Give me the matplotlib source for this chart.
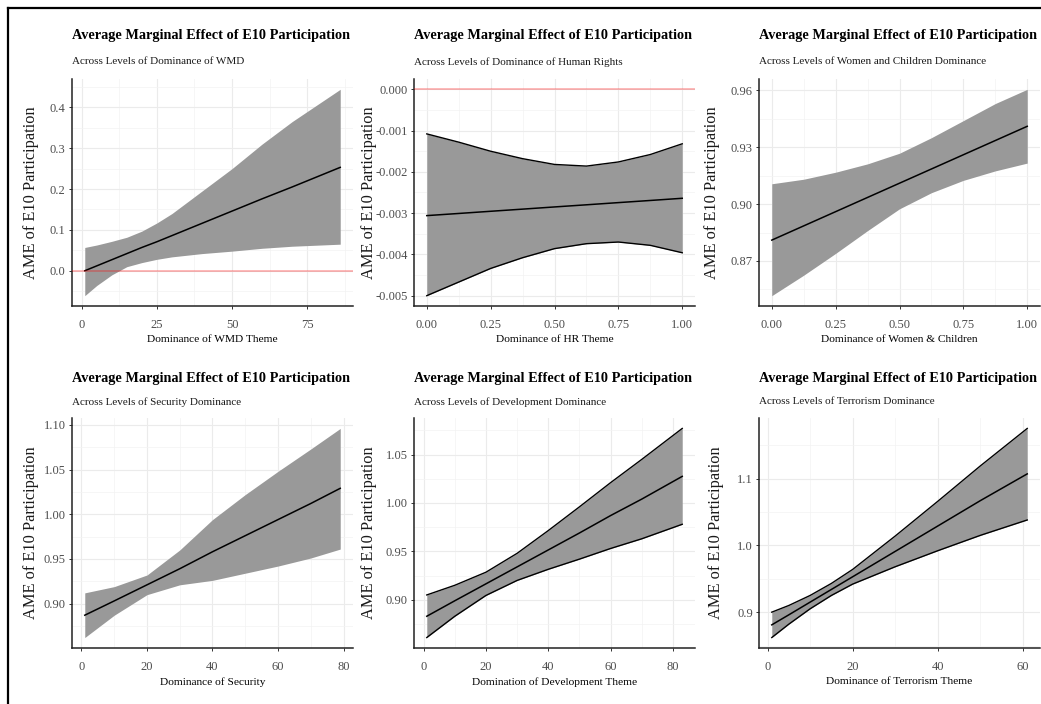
import matplotlib
matplotlib.use("Agg")
import matplotlib.pyplot as plt
from matplotlib.lines import Line2D
from matplotlib.ticker import FixedLocator, FormatStrFormatter, AutoMinorLocator

plt.rcParams['font.family'] = ['Liberation Serif', 'DejaVu Serif']
plt.rcParams['axes.unicode_minus'] = False

# values
wmd_x = [1, 5, 10, 15, 20, 25, 30, 40, 50, 60, 70, 86]
wmd_fit = [0.0, 0.012, 0.027, 0.042, 0.057, 0.071, 0.086, 0.116, 0.146, 0.176, 0.205, 0.253]
wmd_hi = [0.057, 0.063, 0.072, 0.082, 0.097, 0.117, 0.140, 0.195, 0.250, 0.310, 0.365, 0.444]
wmd_lo = [-0.061, -0.036, -0.010, 0.010, 0.020, 0.028, 0.034, 0.042, 0.048, 0.055, 0.060, 0.065]

hr_x = [0, 0.125, 0.25, 0.375, 0.5, 0.625, 0.75, 0.875, 1.0]
hr_fit = [-0.00306, -0.003008, -0.002955, -0.002903, -0.00285, -0.002798, -0.002745, -0.002693, -0.00264]
hr_hi = [-0.00108, -0.00128, -0.00150, -0.00168, -0.00182, -0.00186, -0.00176, -0.00158, -0.00132]
hr_lo = [-0.00500, -0.00467, -0.00434, -0.00408, -0.00386, -0.00374, -0.00370, -0.00378, -0.00396]

wc_x = [0, 0.125, 0.25, 0.375, 0.5, 0.625, 0.75, 0.875, 1.0]
wc_fit = [0.881, 0.8885, 0.896, 0.9035, 0.911, 0.9185, 0.926, 0.9335, 0.941]
wc_hi = [0.9107, 0.9131, 0.9168, 0.9212, 0.9268, 0.9350, 0.9440, 0.9530, 0.9605]
wc_lo = [0.8517, 0.8625, 0.8740, 0.8860, 0.8975, 0.9060, 0.9125, 0.9175, 0.9216]

sec_x = [1, 10, 20, 30, 40, 50, 60, 70, 79]
sec_fit = [0.887, 0.903, 0.921, 0.939, 0.958, 0.976, 0.994, 1.012, 1.029]
sec_hi = [0.912, 0.919, 0.932, 0.960, 0.994, 1.022, 1.048, 1.073, 1.096]
sec_lo = [0.862, 0.887, 0.910, 0.921, 0.926, 0.934, 0.942, 0.951, 0.961]

dev_x = [1, 10, 20, 30, 40, 50, 60, 70, 83]
dev_fit = [0.883, 0.899, 0.9165, 0.934, 0.9515, 0.969, 0.987, 1.004, 1.0275]
dev_hi = [0.905, 0.915, 0.9285, 0.948, 0.9715, 0.996, 1.021, 1.045, 1.077]
dev_lo = [0.861, 0.883, 0.9045, 0.920, 0.9315, 0.942, 0.953, 0.963, 0.978]

ter_x = [1, 5, 10, 15, 20, 30, 40, 50, 61]
ter_fit = [0.881, 0.896, 0.915, 0.934, 0.953, 0.991, 1.029, 1.067, 1.107]
ter_hi = [0.900, 0.910, 0.925, 0.943, 0.964, 1.014, 1.066, 1.119, 1.175]
ter_lo = [0.862, 0.882, 0.905, 0.925, 0.942, 0.968, 0.992, 1.015, 1.038]

title = "Average Marginal Effect of E10 Participation"
subtitles = ["Across Levels of Dominance of WMD",
             "Across Levels of Dominance of Human Rights",
             "Across Levels of Women and Children Dominance",
             "Across Levels of Security Dominance",
             "Across Levels of Development Dominance",
             "Across Levels of Terrorism Dominance"]
xlabels = ["Dominance of WMD Theme", "Dominance of HR Theme",
           "Dominance of Women & Children", "Dominance of Security",
           "Domination of Development Theme", "Dominance of Terrorism Theme"]
ylabel = "AME of E10 Participation"

xticks = [[0, 25, 50, 75], [0, 0.25, 0.5, 0.75, 1.0], [0, 0.25, 0.5, 0.75, 1.0],
          [0, 20, 40, 60, 80], [0, 20, 40, 60, 80], [0, 20, 40, 60]]
yticks = [[0.0, 0.1, 0.2, 0.3, 0.4], [0.0, -0.001, -0.002, -0.003, -0.004, -0.005],
          [0.87, 0.90, 0.93, 0.96], [0.90, 0.95, 1.00, 1.05, 1.10],
          [0.85, 0.90, 0.95, 1.00, 1.05], [0.9, 1.0, 1.1]]
xfmt = ['%d', '%.2f', '%.2f', '%d', '%d', '%d']
yfmt = ['%.1f', '%.3f', '%.2f', '%.2f', '%.2f', '%.1f']

panels = [(wmd_x, wmd_fit, wmd_lo, wmd_hi), (hr_x, hr_fit, hr_lo, hr_hi),
          (wc_x, wc_fit, wc_lo, wc_hi), (sec_x, sec_fit, sec_lo, sec_hi),
          (dev_x, dev_fit, dev_lo, dev_hi), (ter_x, ter_fit, ter_lo, ter_hi)]
outlined = [False, True, False, False, True, True]
zero_line = [True, True, False, False, False, False]

W, H = 1041, 704
fig = plt.figure(figsize=(W / 100, H / 100), dpi=100)

col_left = [72, 414, 759]
col_w = 281
row_top = [79, 418]
row_bot = [306, 648]
title_y = [35, 378]
sub_y = [62, 402]
ylab_off = [33, 37, 39, 33, 37, 35]  # px from axis to right side of y label

for i, (x, fit, lo, hi) in enumerate(panels):
    r, c = divmod(i, 3)
    left = col_left[c]
    ax = fig.add_axes([left / W, 1 - row_bot[r] / H, col_w / W, (row_bot[r] - row_top[r]) / H])

    ax.fill_between(x, lo, hi, color='#999999', lw=0, zorder=2)
    if outlined[i]:
        ax.plot(x, hi, color='black', lw=1.0, zorder=3)
        ax.plot(x, lo, color='black', lw=1.0, zorder=3)
    ax.plot(x, fit, color='black', lw=1.1, zorder=4)

    ymin, ymax = min(lo), max(hi)
    if zero_line[i]:
        ax.axhline(0, color='red', alpha=0.35, lw=1.1, zorder=5)
        ymin, ymax = min(ymin, 0), max(ymax, 0)
    xr = x[-1] - x[0]
    yr = ymax - ymin
    ax.set_xlim(x[0] - 0.05 * xr, x[-1] + 0.05 * xr)
    ax.set_ylim(ymin - 0.05 * yr, ymax + 0.05 * yr)

    ax.xaxis.set_major_locator(FixedLocator(xticks[i]))
    ax.yaxis.set_major_locator(FixedLocator(yticks[i]))
    ax.xaxis.set_major_formatter(FormatStrFormatter(xfmt[i]))
    ax.yaxis.set_major_formatter(FormatStrFormatter(yfmt[i]))
    ax.xaxis.set_minor_locator(AutoMinorLocator(2))
    ax.yaxis.set_minor_locator(AutoMinorLocator(2))

    ax.grid(which='major', color='#EBEBEB', lw=0.8, zorder=0)
    ax.grid(which='minor', color='#F3F3F3', lw=0.5, zorder=0)
    ax.set_axisbelow(True)

    for s in ['top', 'right']:
        ax.spines[s].set_visible(False)
    for s in ['left', 'bottom']:
        ax.spines[s].set_color('#222222')
        ax.spines[s].set_linewidth(1.1)
    ax.tick_params(which='major', length=2.5, width=0.7, color='#333333',
                   labelcolor='#4D4D4D', labelsize=9)
    ax.tick_params(axis='x', pad=7)
    ax.tick_params(axis='y', pad=2)
    ax.tick_params(which='minor', length=0)

    ax.set_xlabel(xlabels[i], fontsize=8.2, labelpad=3)
    ax.set_ylabel(ylabel, fontsize=11.8, color='#1A1A1A')
    ax.yaxis.set_label_coords(-ylab_off[i] / col_w, 0.5)

    fig.text(left / W, 1 - title_y[r] / H, title, fontsize=10.3, fontweight='bold',
             ha='left', va='center')
    fig.text(left / W, 1 - sub_y[r] / H, subtitles[i], fontsize=8.0,
             ha='left', va='center', color='#1A1A1A')

# frame lines along the left and top edges
fig.add_artist(Line2D([8 / W, 8 / W], [0, 1 - 8 / H], color='black', lw=1.6))
fig.add_artist(Line2D([8 / W, 1], [1 - 8 / H, 1 - 8 / H], color='black', lw=1.6))

fig.savefig("out.png", dpi=100)
